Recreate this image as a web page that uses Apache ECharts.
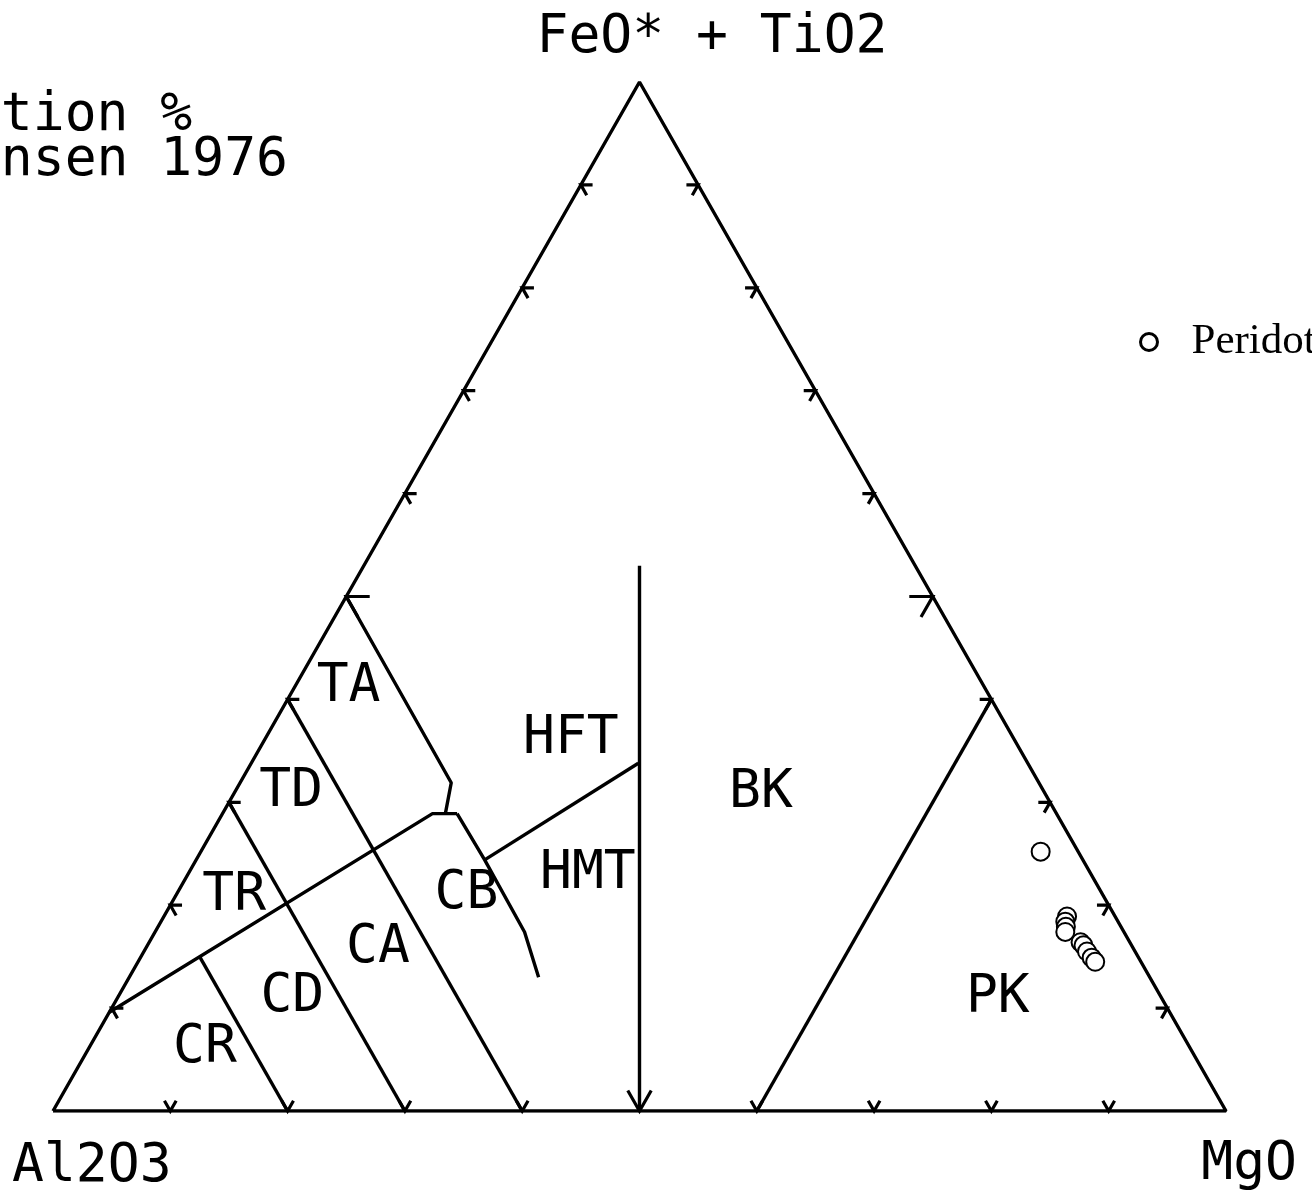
<!DOCTYPE html>
<html>
<head>
<meta charset="utf-8">
<title>Jensen cation plot</title>
<script src="https://cdn.jsdelivr.net/npm/echarts@6/dist/echarts.min.js"></script>
<style>
  html, body { margin: 0; padding: 0; background: #fff; overflow: hidden; }
  #chart { width: 1312px; height: 1193px; }
</style>
</head>
<body>
<div id="chart"></div>
<script>
// Jensen (1976) cation plot. Every composition is [Al2O3, FeO*+TiO2, MgO] in cation %.
const apexNames = ['Al2O3', 'FeO* + TiO2', 'MgO'];

// Peridotite samples
const peridotiteAl = [3.2, 4.1, 4.5, 4.7, 5.0, 4.2, 4.1, 4.1, 4.0, 3.9];
const peridotiteFe = [25.2, 18.9, 18.4, 17.9, 17.4, 16.4, 16.1, 15.5, 14.9, 14.5];
const peridotiteMg = [71.6, 77.0, 77.1, 77.4, 77.6, 79.4, 79.8, 80.4, 81.1, 81.6];

// Field boundaries
const lineTholeiiteCalcAlkaline = [[90.4, 9.6, 0], [53.2, 28.9, 17.9], [51.1, 28.9, 20.0]];
const lineAndesiteBasalt = [[50, 50, 0], [50.1, 31.9, 18.0], [52.1, 28.9, 19.0]];
const lineBasaltKomatiitic = [[51.1, 28.9, 20.0], [51.0, 24.4, 24.6], [51.1, 17.4, 31.5], [52.1, 13.0, 34.9]];
const lineHftHmt = [[33.2, 33.8, 33.0], [51.0, 24.4, 24.6]];
const lineHighFe = [[23.5, 53, 23.5], [50, 0, 50]];
const lineAl60 = [[60, 40, 0], [60, 0, 40]];
const lineAl70 = [[70, 30, 0], [70, 0, 30]];
const lineAl80 = [[80, 15, 5], [80, 0, 20]];
const lineKomatiite = [[40, 0, 60], [0, 40, 60]];
const boundaries = [lineTholeiiteCalcAlkaline, lineAndesiteBasalt, lineBasaltKomatiitic,
  lineHftHmt, lineHighFe, lineAl60, lineAl70, lineAl80, lineKomatiite];

// Field names and their label positions (FeO*+TiO2, MgO)
const regionNames = ['TA', 'TD', 'TR', 'CR', 'CD', 'CA', 'CB', 'HFT', 'HMT', 'BK', 'PK'];
const regionFe = [41.6, 31.4, 21.3, 6.5, 11.4, 16.2, 21.5, 36.5, 23.4, 31.3, 11.3];
const regionMg = [4.4, 4.6, 4.8, 9.7, 14.7, 19.6, 24.5, 25.9, 33.9, 44.7, 74.9];

// Apices and tick values along each side
const apices = [[100, 0, 0], [0, 100, 0], [0, 0, 100]];
const tickValues = [10, 20, 30, 40, 50, 60, 70, 80, 90];

// ternary -> cartesian (x: MgO + Fe/2, y: Fe)
function toXY(t) {
  const s = t[0] + t[1] + t[2];
  return [(t[2] + t[1] / 2) / s * 100, t[1] / s * 100];
}

const FONT = '"DejaVu Sans Mono", monospace';
const LINE = { color: '#000', width: 3.4 };

const series = [];

// triangle outline
series.push({
  type: 'line', silent: true, symbol: 'none', z: 3,
  data: apices.concat([apices[0]]).map(toXY),
  lineStyle: LINE
});

boundaries.forEach(function (b) {
  series.push({
    type: 'line', silent: true, symbol: 'none', z: 3,
    data: b.map(toXY),
    lineStyle: LINE
  });
});

// side ticks: two short strokes along the iso-lines running into the triangle
const tickData = [];
[0, 1, 2].forEach(function (side) {
  tickValues.forEach(function (v) { tickData.push([side, v]); });
});
series.push({
  type: 'custom', silent: true, clip: false, z: 4,
  data: tickData,
  renderItem: function (params, api) {
    const side = api.value(0), v = api.value(1);
    const d = v === 50 ? 2 : 1;
    let p, a, b;
    if (side === 0) {          // Al2O3 - FeO* side, MgO = 0
      p = [100 - v, v, 0];
      a = [100 - v - d, v, d];
      b = [100 - v, v - d, d];
    } else if (side === 1) {   // FeO* - MgO side, Al2O3 = 0
      p = [0, v, 100 - v];
      a = [d, v, 100 - v - d];
      b = [d, v - d, 100 - v];
    } else {                   // Al2O3 - MgO side, FeO* = 0
      p = [100 - v, 0, v];
      a = [100 - v, d, v - d];
      b = [100 - v - d, d, v];
    }
    const P = api.coord(toXY(p)), A = api.coord(toXY(a)), B = api.coord(toXY(b));
    return {
      type: 'polyline',
      shape: { points: [A, P, B] },
      style: { stroke: '#000', lineWidth: 3.2, fill: null }
    };
  }
});

// field labels
series.push({
  type: 'scatter', silent: true, symbolSize: 0, z: 5,
  itemStyle: { opacity: 1 },
  data: regionNames.map(function (n, i) {
    return { name: n, value: toXY([100 - regionFe[i] - regionMg[i], regionFe[i], regionMg[i]]) };
  }),
  label: {
    show: true, position: 'inside', formatter: '{b}', offset: [0, 4],
    fontFamily: FONT, fontSize: 53, color: '#000', opacity: 1
  }
});

// samples
series.push({
  name: 'Peridotite',
  type: 'scatter', z: 6,
  symbol: 'emptyCircle', symbolSize: 18,
  itemStyle: { color: '#000', borderColor: '#000', borderWidth: 3, opacity: 1 },
  data: peridotiteAl.map(function (al, i) { return toXY([al, peridotiteFe[i], peridotiteMg[i]]); })
});

const chart = echarts.init(document.getElementById('chart'), null, { renderer: 'canvas' });
chart.setOption({
  animation: false,
  backgroundColor: '#fff',
  grid: { left: 53, right: 86, top: 82, bottom: 82 },
  xAxis: { type: 'value', min: 0, max: 100, show: false },
  yAxis: { type: 'value', min: 0, max: 100, show: false },
  legend: {
    left: 1134, top: 314, orient: 'vertical',
    data: [{ name: 'Peridotite', icon: 'circle' }],
    itemWidth: 17, itemHeight: 17,
    itemStyle: { color: '#fff', borderColor: '#000', borderWidth: 3, opacity: 1 },
    textStyle: {
      fontFamily: '"Liberation Serif", "Times New Roman", serif',
      fontSize: 43, color: '#000', lineHeight: 46, padding: [0, 0, 0, 29]
    },
    selectedMode: false
  },
  graphic: [
    { type: 'text', x: 712, y: 38, style: { text: apexNames[1], font: '53px ' + FONT, fill: '#000', align: 'center', verticalAlign: 'middle' } },
    { type: 'text', x: 12, y: 1167, style: { text: apexNames[0], font: '53px ' + FONT, fill: '#000', align: 'left', verticalAlign: 'middle' } },
    { type: 'text', x: 1297, y: 1165, style: { text: apexNames[2], font: '53px ' + FONT, fill: '#000', align: 'right', verticalAlign: 'middle' } },
    { type: 'text', x: -63, y: 116, style: { text: 'Cation %', font: '53px ' + FONT, fill: '#000', align: 'left', verticalAlign: 'middle' } },
    { type: 'text', x: -63, y: 161, style: { text: 'Jensen 1976', font: '53px ' + FONT, fill: '#000', align: 'left', verticalAlign: 'middle' } }
  ],
  series: series
});
</script>
</body>
</html>
